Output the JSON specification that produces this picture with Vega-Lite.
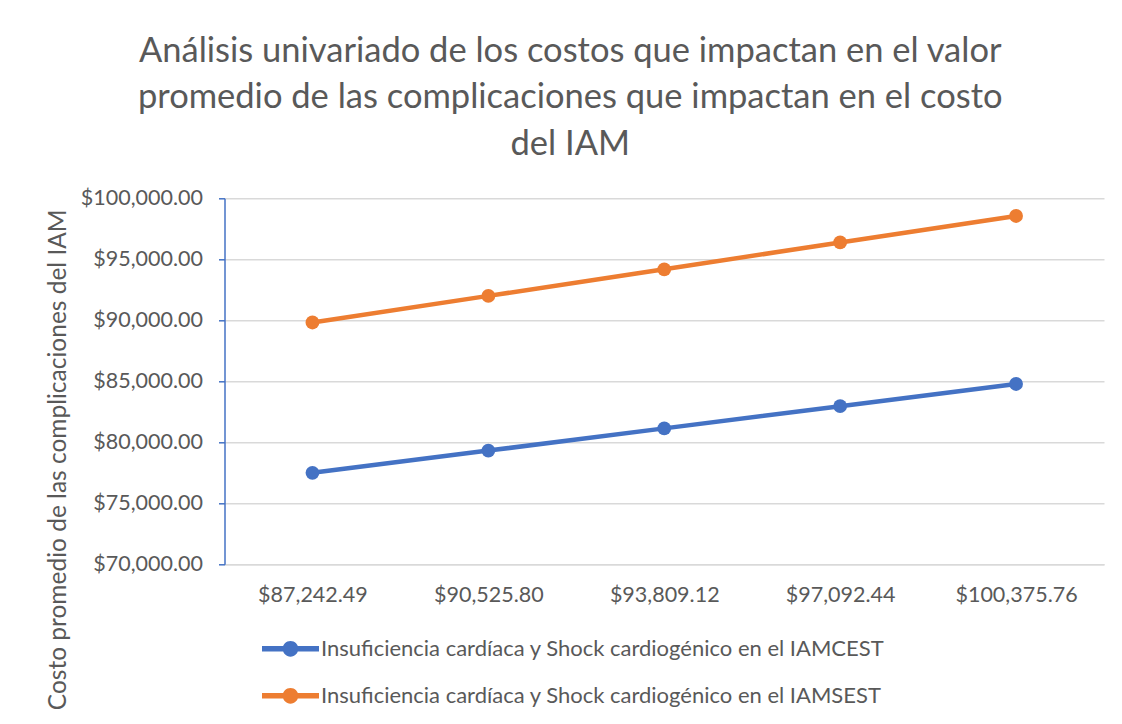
{
  "$schema": "https://vega.github.io/schema/vega-lite/v6.json",
  "autosize": {"type": "none"},
  "width": 879.5,
  "height": 366,
  "padding": {"left": 224.5, "top": 198.3, "right": 18, "bottom": 159.7},
  "background": "white",
  "title": {
    "text": ["Análisis univariado de los costos que impactan en el valor", "promedio de las complicaciones que impactan en el costo", "del IAM"],
    "font": "Lato",
    "fontSize": 34.5,
    "fontWeight": "normal",
    "color": "#595959",
    "anchor": "middle",
    "frame": "group",
    "dx": -94,
    "dy": 43,
    "baseline": "bottom",
    "lineHeight": 46.5,
    "offset": 34
  },
  "data": {
    "values": [
      {"x": "$87,242.49", "serie": "Insuficiencia cardíaca y Shock cardiogénico en el IAMCEST", "costo": 77500},
      {"x": "$90,525.80", "serie": "Insuficiencia cardíaca y Shock cardiogénico en el IAMCEST", "costo": 79320},
      {"x": "$93,809.12", "serie": "Insuficiencia cardíaca y Shock cardiogénico en el IAMCEST", "costo": 81140},
      {"x": "$97,092.44", "serie": "Insuficiencia cardíaca y Shock cardiogénico en el IAMCEST", "costo": 82960},
      {"x": "$100,375.76", "serie": "Insuficiencia cardíaca y Shock cardiogénico en el IAMCEST", "costo": 84780},
      {"x": "$87,242.49", "serie": "Insuficiencia cardíaca y Shock cardiogénico en el IAMSEST", "costo": 89820},
      {"x": "$90,525.80", "serie": "Insuficiencia cardíaca y Shock cardiogénico en el IAMSEST", "costo": 92000},
      {"x": "$93,809.12", "serie": "Insuficiencia cardíaca y Shock cardiogénico en el IAMSEST", "costo": 94180},
      {"x": "$97,092.44", "serie": "Insuficiencia cardíaca y Shock cardiogénico en el IAMSEST", "costo": 96380},
      {"x": "$100,375.76", "serie": "Insuficiencia cardíaca y Shock cardiogénico en el IAMSEST", "costo": 98550}
    ]
  },
  "mark": {"type": "line", "strokeWidth": 4.5, "point": {"filled": true, "size": 190, "strokeWidth": 0}},
  "encoding": {
    "x": {
      "field": "x",
      "type": "ordinal",
      "sort": null,
      "scale": {"type": "point", "padding": 0.5},
      "axis": {
        "title": null,
        "labelAngle": 0,
        "labelFont": "Lato",
        "labelFontSize": 21.5,
        "labelColor": "#595959",
        "labelPadding": 20,
        "ticks": false,
        "grid": false,
        "domainColor": "#d9d9d9",
        "domainWidth": 1.5
      }
    },
    "y": {
      "field": "costo",
      "type": "quantitative",
      "scale": {"domain": [70000, 100000], "nice": false, "zero": false},
      "axis": {
        "title": "Costo promedio de las complicaciones del IAM",
        "titleFont": "Lato",
        "titleFontSize": 24.5,
        "titleFontWeight": "normal",
        "titleColor": "#595959",
        "titleX": -159,
        "titleY": 261,
        "titleAngle": -90,
        "titleAlign": "center",
        "titleBaseline": "alphabetic",
        "format": "$,.2f",
        "values": [70000, 75000, 80000, 85000, 90000, 95000, 100000],
        "labelFont": "Lato",
        "labelFontSize": 21.5,
        "labelColor": "#595959",
        "labelPadding": 16,
        "tickSize": 6,
        "tickColor": "#4472C4",
        "tickWidth": 1.5,
        "domainColor": "#4472C4",
        "domainWidth": 1.5,
        "gridColor": "#d9d9d9",
        "gridWidth": 1.5
      }
    },
    "color": {
      "field": "serie",
      "type": "nominal",
      "scale": {"range": ["#4472C4", "#ED7D31"]},
      "legend": {
        "title": null,
        "orient": "none",
        "legendX": 37.5,
        "legendY": 422,
        "direction": "vertical",
        "padding": 0,
        "rowPadding": 7,
        "labelFont": "Lato",
        "labelFontSize": 22,
        "labelColor": "#595959",
        "labelOffset": 2,
        "labelLimit": 800,
        "symbolType": "M-1,-0.095L1,-0.095L1,0.095L-1,0.095Z M0.275,0A0.275,0.275,0,1,1,-0.275,0A0.275,0.275,0,1,1,0.275,0Z",
        "symbolSize": 3249,
        "symbolStrokeWidth": 0
      }
    }
  },
  "config": {"view": {"stroke": null}}
}
